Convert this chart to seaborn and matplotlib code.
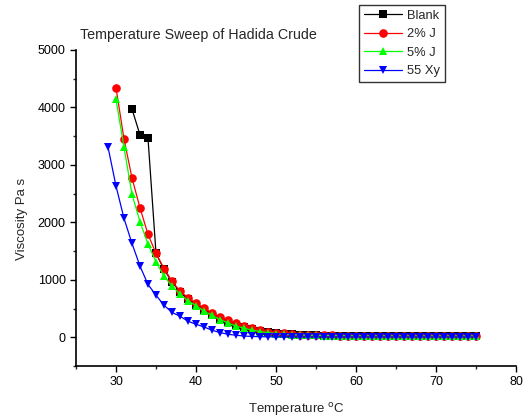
import numpy as np
import pandas as pd
import matplotlib
matplotlib.use("Agg")
import matplotlib.pyplot as plt
import seaborn as sns
from matplotlib.ticker import MultipleLocator

sns.set_theme(style="white")
plt.rcParams["font.family"] = ["Liberation Sans", "DejaVu Sans"]

# Viscosity (Pa s) against temperature (°C) for each sample
temp_blank = list(range(32, 76))
visc_blank = [3970, 3520, 3460, 1460, 1180, 960, 790, 660, 555, 470, 390, 325,
              270, 220, 178, 143, 115, 92, 74, 60, 50, 42, 36, 32, 29, 27, 26,
              25, 25, 24, 24, 24, 23, 23, 23, 23, 22, 22, 22, 22, 22, 22, 22, 22]

temp_2j = list(range(30, 76))
visc_2j = [4340, 3450, 2770, 2250, 1790, 1458, 1196, 976, 800, 690, 595, 510,
           425, 355, 300, 245, 195, 155, 125, 100, 80, 66, 55, 47, 41, 37, 34,
           31, 29, 28, 27, 26, 25, 25, 24, 24, 24, 23, 23, 23, 23, 23, 23, 23,
           23, 23]

temp_5j = list(range(30, 76))
visc_5j = [4140, 3305, 2486, 2009, 1620, 1312, 1063, 889, 749, 633, 552, 453,
           383, 308, 249, 192, 160, 122, 100, 80, 65, 55, 47, 41, 37, 33, 30,
           28, 27, 26, 25, 24, 24, 23, 23, 23, 22, 22, 22, 22, 22, 22, 22, 22,
           22, 22]

temp_xy = list(range(29, 76))
visc_xy = [3310, 2631, 2068, 1632, 1237, 918, 732, 557, 432, 366, 279, 226, 180,
           122, 82, 52, 35, 22, 14, 10, 8, 7, 6, 6, 5, 5, 5, 5, 5, 5, 5, 5, 5, 5,
           5, 5, 5, 5, 5, 5, 5, 5, 5, 5, 5, 5, 5]

series_names = ["Blank", "2% J", "5% J", "55 Xy"]
series_colors = ["#000000", "#ff0000", "#00ff00", "#0000ff"]
series_markers = ["s", "o", "^", "v"]

frames = []
for name, t, v in zip(series_names,
                      [temp_blank, temp_2j, temp_5j, temp_xy],
                      [visc_blank, visc_2j, visc_5j, visc_xy]):
    frames.append(pd.DataFrame({"Temperature": t, "Viscosity": v, "Sample": name}))
df = pd.concat(frames, ignore_index=True)

fig = plt.figure(figsize=(5.26, 4.19), dpi=100)
ax = fig.add_axes([0.1445, 0.1265, 0.8365, 0.7545])

sns.lineplot(data=df, x="Temperature", y="Viscosity", hue="Sample",
             style="Sample", hue_order=series_names, style_order=series_names,
             palette=dict(zip(series_names, series_colors)),
             markers=dict(zip(series_names, series_markers)),
             dashes=False, markersize=6.2, markeredgewidth=0,
             linewidth=0.9, sort=False, ax=ax, legend=True)

ax.set_xlim(25, 80)
ax.set_ylim(-500, 5000)
ax.xaxis.set_major_locator(MultipleLocator(10))
ax.xaxis.set_minor_locator(MultipleLocator(5))
ax.yaxis.set_major_locator(MultipleLocator(1000))
ax.yaxis.set_minor_locator(MultipleLocator(500))
ax.tick_params(axis="both", which="major", direction="out", length=4,
               width=1, labelsize=9, colors="black", bottom=True, left=True)
ax.tick_params(axis="both", which="minor", direction="out", length=2.5,
               width=1, bottom=True, left=True)
ax.xaxis.set_ticks_position("bottom")
ax.yaxis.set_ticks_position("left")
for side in ["top", "right"]:
    ax.spines[side].set_visible(False)
for side in ["left", "bottom"]:
    ax.spines[side].set_color("black")
    ax.spines[side].set_linewidth(1.2)

ax.set_xlabel(r"Temperature $^{\rm o}$C", fontsize=9.5, labelpad=9)
ax.set_ylabel("Viscosity Pa s", fontsize=9.5)
ax.yaxis.set_label_coords(-0.11, 0.465)

fig.text(80 / 526, 1 - 35 / 419, "Temperature Sweep of Hadida Crude",
         fontsize=10.3, ha="left", va="center")

handles, labels = ax.get_legend_handles_labels()
leg = ax.legend(handles, labels, loc="upper left",
                bbox_to_anchor=(359 / 526, 1 - 5 / 419),
                bbox_transform=fig.transFigure, frameon=True, fancybox=False,
                edgecolor="black", fontsize=9.3, handlelength=3.0,
                handletextpad=0.4, borderpad=0.35, labelspacing=0.5,
                borderaxespad=0)
leg.get_frame().set_linewidth(1.0)

fig.savefig("out.png", dpi=100, facecolor="white")
